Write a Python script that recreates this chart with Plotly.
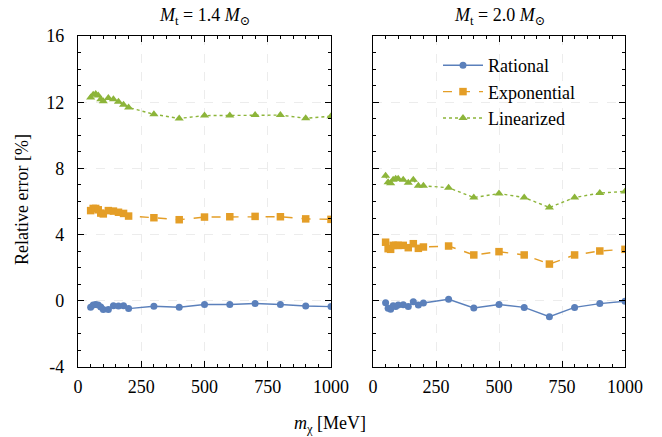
import plotly.graph_objects as go

# ---- data ----
m_chi = [50, 60, 70, 80, 90, 100, 120, 140, 160, 180, 200, 300, 400, 500, 600, 700, 800, 900, 1000]

rational_14 = [-0.39, -0.26, -0.22, -0.26, -0.37, -0.53, -0.53, -0.30, -0.31, -0.30, -0.47,
               -0.33, -0.39, -0.22, -0.22, -0.16, -0.22, -0.31, -0.35]
exponential_14 = [5.45, 5.58, 5.58, 5.50, 5.30, 5.25, 5.45, 5.42, 5.35, 5.28, 5.12,
                  5.02, 4.90, 5.06, 5.08, 5.10, 5.08, 4.95, 4.92]
linearized_14 = [12.28, 12.45, 12.49, 12.41, 12.18, 12.06, 12.26, 12.18, 12.02, 11.85, 11.68,
                 11.27, 11.02, 11.19, 11.19, 11.23, 11.22, 11.03, 11.15]

rational_20 = [-0.12, -0.45, -0.51, -0.30, -0.35, -0.26, -0.24, -0.35, -0.05, -0.26, -0.13,
               0.09, -0.43, -0.22, -0.40, -0.96, -0.40, -0.17, -0.03]
exponential_20 = [3.54, 3.15, 3.11, 3.35, 3.35, 3.35, 3.35, 3.21, 3.45, 3.17, 3.25,
                  3.31, 2.77, 2.97, 2.77, 2.22, 2.77, 3.01, 3.11]
linearized_20 = [7.56, 7.17, 7.11, 7.31, 7.37, 7.37, 7.31, 7.13, 7.31, 6.95, 6.95,
                 6.83, 6.24, 6.48, 6.24, 5.64, 6.24, 6.51, 6.61]

series_names = ["Rational", "Exponential", "Linearized"]
panel_titles = ["<i>M</i><sub>t</sub> = 1.4 <i>M</i><sub>⊙</sub>",
                "<i>M</i><sub>t</sub> = 2.0 <i>M</i><sub>⊙</sub>"]
x_tickvals = [0, 250, 500, 750, 1000]
x_ticktext = ["0", "250", "500", "750", "1000"]
y_tickvals = [-4, 0, 4, 8, 12, 16]
y_ticktext = ["-4", "0", "4", "8", "12", "16"]

# ---- styling ----
FONT = "'Liberation Serif', 'DejaVu Serif', serif"
colors = ["#5b80bb", "#e49e27", "#8db53a"]
dashes = ["solid", "dash", "dot"]
symbols = ["circle", "square", "triangle-up"]
msizes = [7, 7.5, 8]

fig = go.Figure()
panels = [
    ("x", "y", [rational_14, exponential_14, linearized_14]),
    ("x2", "y2", [rational_20, exponential_20, linearized_20]),
]
for pi, (xa, ya, data) in enumerate(panels):
    for si, vals in enumerate(data):
        fig.add_trace(go.Scatter(
            x=m_chi, y=vals, xaxis=xa, yaxis=ya, mode="lines+markers",
            name=series_names[si], showlegend=(pi == 1),
            line=dict(color=colors[si], dash=dashes[si], width=1.4),
            marker=dict(symbol=symbols[si], size=msizes[si], color=colors[si]),
        ))

W, H = 662, 437
left_dom = [78 / W, 331 / W]
right_dom = [373 / W, 625 / W]
y_dom = [1 - 367 / H, 1 - 36 / H]

axis_common = dict(
    showline=True, linecolor="black", linewidth=1.2, mirror="allticks",
    ticks="inside", ticklen=6, tickwidth=1.2, tickcolor="black",
    showgrid=True, gridcolor="#ececec", griddash="dash", gridwidth=1,
    zeroline=False, automargin=False,
    tickfont=dict(family=FONT, size=18, color="black"),
)
xaxis_common = dict(axis_common, range=[0, 1000], tickvals=x_tickvals, ticktext=x_ticktext,
                    ticklabelstandoff=3,
                    minor=dict(tickvals=list(range(0, 1001, 50)), ticks="inside", ticklen=3,
                               tickwidth=1, tickcolor="black", showgrid=False))
yaxis_common = dict(axis_common, range=[-4, 16], tickvals=y_tickvals, ticktext=y_ticktext,
                    ticklabelstandoff=9,
                    minor=dict(tickvals=list(range(-4, 17)), ticks="inside", ticklen=3,
                               tickwidth=1, tickcolor="black", showgrid=False))

fig.update_layout(
    width=W, height=H,
    margin=dict(l=0, r=0, t=0, b=0, autoexpand=False),
    paper_bgcolor="white", plot_bgcolor="white",
    xaxis=dict(xaxis_common, domain=left_dom, anchor="y"),
    yaxis=dict(yaxis_common, domain=y_dom, anchor="x"),
    xaxis2=dict(xaxis_common, domain=right_dom, anchor="y2"),
    yaxis2=dict(yaxis_common, domain=y_dom, anchor="x2", showticklabels=False),
    legend=dict(x=438 / W, y=1 - 47 / H, xanchor="left", yanchor="top",
                bgcolor="rgba(0,0,0,0)", font=dict(family=FONT, size=18, color="black"),
                tracegroupgap=0, itemwidth=40),
    font=dict(family=FONT, color="black"),
)

annotations = []
for i, dom in enumerate([left_dom, right_dom]):
    annotations.append(dict(text=panel_titles[i], x=(dom[0] + dom[1]) / 2, y=1 - 17 / H,
                            xref="paper", yref="paper", showarrow=False,
                            font=dict(family=FONT, size=18, color="black"),
                            xanchor="center", yanchor="middle"))
annotations.append(dict(text="<i>m</i><sub>χ</sub> [MeV]", x=330 / W, y=1 - 424 / H,
                        xref="paper", yref="paper", showarrow=False,
                        font=dict(family=FONT, size=18, color="black"),
                        xanchor="center", yanchor="middle"))
annotations.append(dict(text="Relative error [%]", x=22 / W, y=1 - 200 / H,
                        xref="paper", yref="paper", showarrow=False, textangle=-90,
                        font=dict(family=FONT, size=18, color="black"),
                        xanchor="center", yanchor="middle"))
fig.update_layout(annotations=annotations)

fig.write_html("out.html", config={"displayModeBar": False},
               post_script="document.body.style.margin='0';")
